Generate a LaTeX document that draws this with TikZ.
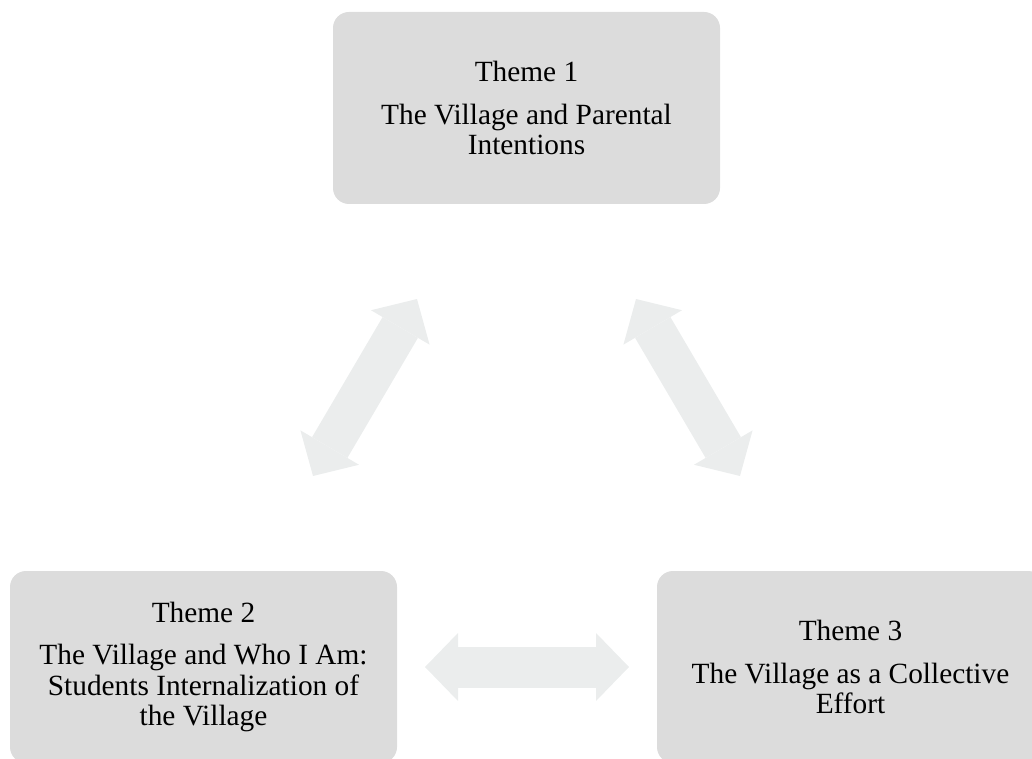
\documentclass[tikz,border=0pt]{standalone}
\usepackage{fontspec}
\setmainfont{Liberation Serif}
\usetikzlibrary{arrows.meta}
\definecolor{themegray}{RGB}{220,220,220}
\definecolor{arrowgray}{RGB}{235,237,237}
\begin{document}
\begin{tikzpicture}[x=0.75pt, y=-0.75pt,
        theme/.style={fill=themegray, rounded corners=12pt, inner sep=0pt,
            minimum width=290.25pt, minimum height=144pt, align=center,
            font=\fontsize{22}{22.9}\selectfont},
        twoway/.style={draw=arrowgray, line width=30.75pt, <->,
            >={Triangle[width=51pt, length=24.75pt, line width=0pt]}}]
        \useasboundingbox (0, 0) rectangle (1032, 759);
        \clip (0, 0) rectangle (1032, 759);

        \node[theme] (theme1) at (526.5, 108) {Theme 1\\[9pt]The Village and Parental\\Intentions};
        \node[theme] (theme2) at (203.5, 667) {Theme 2\\[9pt]The Village and Who I Am:\\Students Internalization of\\the Village};
        \node[theme] (theme3) at (850.5, 667) {Theme 3\\[9pt]The Village as a Collective\\Effort};

        \coordinate (l1) at (417, 299);
        \coordinate (l2) at (313, 476);
        \coordinate (r1) at (636, 299);
        \coordinate (r3) at (740, 476);
        \coordinate (b2) at (425, 667);
        \coordinate (b3) at (629, 667);

        \draw[twoway] (l2) -- (l1);
        \draw[twoway] (r1) -- (r3);
        \draw[twoway] (b2) -- (b3);
    \end{tikzpicture}
\end{document}
